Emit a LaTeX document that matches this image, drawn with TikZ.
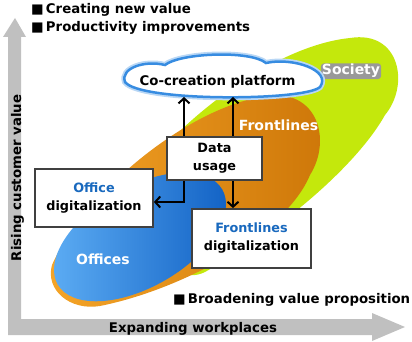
\documentclass[tikz,border=0pt]{standalone}
\usepackage{fontspec}
\setmainfont{DejaVu Sans}
\usetikzlibrary{arrows.meta}
\definecolor{society}{RGB}{196,232,12}
\definecolor{frontlight}{RGB}{245,165,40}
\definecolor{frontdark}{RGB}{205,118,8}
\definecolor{officelight}{RGB}{95,175,245}
\definecolor{officedark}{RGB}{15,95,195}
\definecolor{axisgray}{RGB}{192,192,192}
\definecolor{cloudblue}{RGB}{55,140,225}
\definecolor{titleblue}{RGB}{25,105,190}

\begin{document}
\begin{tikzpicture}[x=1pt,y=-1pt,
  font=\bfseries\fontsize{13.3}{16}\selectfont,
  box/.style={draw=black!75,line width=1.8pt,fill=white,align=center,inner sep=0pt,
    font=\bfseries\fontsize{12.8}{18}\selectfont},
  link/.style={line width=2pt,
    {Straight Barb[length=5pt,width=11pt]}-{Straight Barb[length=5pt,width=11pt]}},
  area/.style={text=white,inner sep=1pt,font=\bfseries\fontsize{14}{16}\selectfont}]
\useasboundingbox (0,0) rectangle (412,342);

\fill[axisgray] (8,335) -- (8,37) -- (3,37) -- (15,18) -- (26,37) -- (21,37) -- (21,319)
  -- (372,319) -- (372,313) -- (405,327) -- (372,341) -- (372,335) -- cycle;
\node[rotate=90,anchor=base,inner sep=0pt] (yaxis) at (21,178) {Rising customer value};
\node[anchor=base,inner sep=0pt] (xaxis) at (193,332) {Expanding workplaces};

\fill[society] (140,175) .. controls (190,110) and (280,45) .. (350,38)
  .. controls (400,30) and (410,85) .. (385,115)
  .. controls (360,160) and (290,225) .. (205,272)
  .. controls (170,290) and (110,230) .. (140,175) -- cycle;
\shade[left color=frontlight,right color=frontdark] (52,265) .. controls (80,200) and (180,110) .. (265,96)
  .. controls (318,88) and (332,140) .. (310,175)
  .. controls (285,235) and (180,290) .. (100,306)
  .. controls (70,311) and (45,290) .. (52,265) -- cycle;
\shade[left color=officelight,right color=officedark,rotate around={30:(140,237)}]
  (140,237) ellipse [x radius=95pt,y radius=50pt];

\node[area,fill=black!40,rounded corners=3pt,anchor=base] (society) at (351,75) {Society};
\node[area,anchor=base] (frontlines) at (278.5,130.5) {Frontlines};
\node[area,anchor=base] (offices) at (103,264) {Offices};

\node[anchor=base west,inner sep=0pt] (newvalue) at (31,14) {■\,Creating new value};
\node[anchor=base west,inner sep=0pt] (productivity) at (31,32) {■\,Productivity improvements};
\node[anchor=base west,inner sep=0pt] (broadening) at (173,303) {■\,Broadening value proposition};

\draw[cloudblue,line width=2.5pt,fill=white,preaction={draw,cloudblue!35,line width=6pt}]
  (125,82) .. controls (120,68) and (145,60) .. (165,65)
  .. controls (180,53) and (250,50) .. (266,63)
  .. controls (292,57) and (332,70) .. (320,87)
  .. controls (305,101) and (140,102) .. (125,82) -- cycle;
\node[anchor=base] (platform) at (217.5,86) {Co-creation platform};

\node[box,minimum width=118pt,minimum height=58pt] (office) at (94,198)
  {\textcolor{titleblue}{Office}\\digitalization};
\node[box,minimum width=119pt,minimum height=59pt] (front) at (251.5,238.5)
  {\textcolor{titleblue}{Frontlines}\\digitalization};

\coordinate (cl) at (184,97);
\coordinate (cr) at (233,97);
\coordinate (bend) at (184,202);
\draw[link] (office.east |- bend) -- (bend) -- (cl);
\draw[link] (cr) -- (cr |- front.north);

\node[box,minimum width=95pt,minimum height=43pt] (data) at (214.5,158.5) {Data\\usage};
\end{tikzpicture}
\end{document}
